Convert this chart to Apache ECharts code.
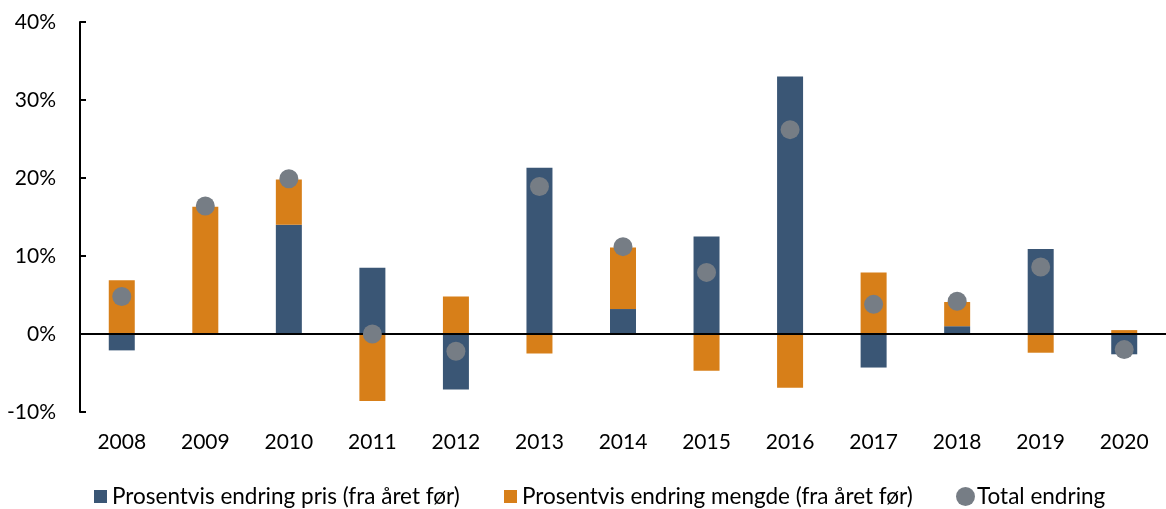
<!DOCTYPE html>
<html>
<head>
<meta charset="utf-8">
<script src="https://cdn.jsdelivr.net/npm/echarts@6/dist/echarts.min.js"></script>
<style>
  html, body { margin: 0; padding: 0; background: #fff; }
  #chart { width: 1166px; height: 509px; }
</style>
</head>
<body>
<div id="chart"></div>
<script>
// årstall og prosentvis endring (lest av figuren)
var years = ['2008', '2009', '2010', '2011', '2012', '2013', '2014', '2015', '2016', '2017', '2018', '2019', '2020'];
var pris = [-2.1, 0, 14.0, 8.5, -7.1, 21.3, 3.2, 12.5, 33.0, -4.3, 1.0, 10.9, -2.6];
var mengde = [6.9, 16.3, 5.8, -8.6, 4.8, -2.5, 7.9, -4.7, -6.9, 7.9, 3.1, -2.4, 0.5];
var total = [4.8, 16.4, 19.9, 0.0, -2.2, 18.9, 11.2, 7.9, 26.2, 3.8, 4.2, 8.6, -2.0];

var navnPris = 'Prosentvis endring pris (fra året før)';
var navnMengde = 'Prosentvis endring mengde (fra året før)';
var navnTotal = 'Total endring';

var font = 'Lato, "Open Sans", sans-serif';
var legendText = { fontFamily: font, fontSize: 22.5, color: '#000' };

var myChart = echarts.init(document.getElementById('chart'));
myChart.setOption({
    animation: false,
    grid: { left: 80, top: 22, width: 1091, height: 390 },
    legend: [
        { left: 94, top: 485, padding: 0, itemWidth: 13, itemHeight: 13, data: [{ name: navnPris, icon: 'rect' }], textStyle: legendText },
        { left: 504, top: 485, padding: 0, itemWidth: 13, itemHeight: 13, data: [{ name: navnMengde, icon: 'rect' }], textStyle: legendText },
        { left: 956, top: 485, padding: 0, itemWidth: 19, itemHeight: 19, data: [{ name: navnTotal, icon: 'circle' }],
          textStyle: Object.assign({}, legendText, { padding: [0, 0, 0, -3] }) }
    ],
    xAxis: {
        type: 'category',
        data: years,
        axisLine: { show: false },
        axisTick: { show: false },
        axisLabel: { margin: 20, fontFamily: font, fontSize: 21, color: '#000' }
    },
    yAxis: {
        type: 'value',
        min: -10,
        max: 40,
        interval: 10,
        splitLine: { show: false },
        axisLine: { show: true, lineStyle: { color: '#000', width: 2 } },
        axisTick: { show: true, inside: true, length: 6, lineStyle: { color: '#000', width: 2 } },
        axisLabel: { margin: 24, fontFamily: font, fontSize: 21, color: '#000', formatter: '{value}%' }
    },
    series: [
        {
            name: navnPris,
            type: 'bar',
            stack: 'endring',
            barWidth: 26,
            data: pris,
            itemStyle: { color: '#3a5675' },
            markLine: {
                silent: true,
                symbol: 'none',
                label: { show: false },
                lineStyle: { color: '#000', width: 2, type: 'solid' },
                data: [{ yAxis: 0 }]
            }
        },
        {
            name: navnMengde,
            type: 'bar',
            stack: 'endring',
            barWidth: 26,
            data: mengde,
            itemStyle: { color: '#d77f19' }
        },
        {
            name: navnTotal,
            type: 'scatter',
            symbolSize: 19,
            data: total,
            itemStyle: { color: '#767d85', opacity: 1 },
            z: 5
        }
    ]
});
</script>
</body>
</html>
